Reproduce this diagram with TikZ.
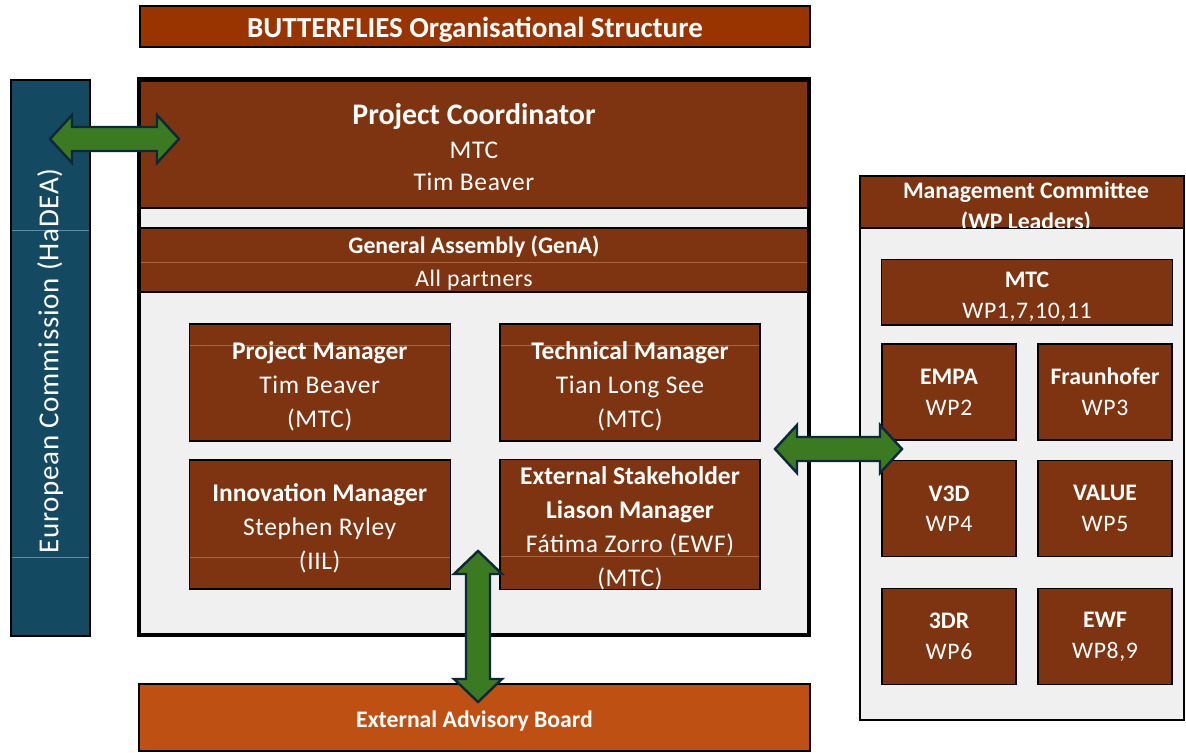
\documentclass[tikz,border=0pt]{standalone}
\usepackage{fontspec}
\setmainfont{Carlito}[UprightFeatures={LetterSpace=2.5}]
\usepackage{tikz}
\usetikzlibrary{calc}
\definecolor{brownbox}{HTML}{7E3410}
\definecolor{titlebar}{HTML}{993300}
\definecolor{advisory}{HTML}{BF5014}
\definecolor{commission}{HTML}{134A62}
\definecolor{panel}{HTML}{F0F0F0}
\definecolor{linkgreen}{HTML}{3C7A22}
\definecolor{linkedge}{HTML}{0D283A}
\definecolor{gridline}{HTML}{A8683F}
\definecolor{ecgrid}{HTML}{5D8CA3}
\newcommand{\px}{0.02cm}
% pushes the first line of a box down a little
\newcommand{\boxtop}{\rule{0pt}{1em}}
\tikzset{
  box/.style={draw=black, line width=0.7pt, fill=brownbox, text=white, align=center, inner sep=0pt,
    font=\fontsize{14.5}{19.3}\selectfont},
  wpbox/.style={box, minimum width=134*\px, minimum height=96*\px, font=\fontsize{13.5}{17.6}\selectfont},
  gridat/.style={path picture={\draw[gridline, line width=0.5pt]
    ([yshift=-#1]path picture bounding box.north west) -- ([yshift=-#1]path picture bounding box.north east);}},
  frame/.style={draw=black, line width=2pt, fill=panel},
  mcframe/.style={draw=black, line width=1.1pt, fill=panel},
  link/.style={draw=linkedge, line width=1.4pt, fill=linkgreen, line join=miter},
  lab/.style={text=white, inner sep=0pt, align=center}
}
% block arrows between two tips: (left,right) and (top,bottom)
\newcommand{\sidelinkarrow}[2]{%
  \draw[link] (#1) -- ($(#1)+(22,-24)$) -- ($(#1)+(22,-12)$) -- ($(#2)+(-22,-12)$) -- ($(#2)+(-22,-24)$)
    -- (#2) -- ($(#2)+(-22,24)$) -- ($(#2)+(-22,12)$) -- ($(#1)+(22,12)$) -- ($(#1)+(22,24)$) -- cycle;}
\newcommand{\uplinkarrow}[2]{%
  \draw[link] (#1) -- ($(#1)+(24,23)$) -- ($(#1)+(12,23)$) -- ($(#2)+(12,-23)$) -- ($(#2)+(24,-23)$)
    -- (#2) -- ($(#2)+(-24,-23)$) -- ($(#2)+(-12,-23)$) -- ($(#1)+(-12,23)$) -- ($(#1)+(-24,23)$) -- cycle;}

\begin{document}
\begin{tikzpicture}[x=\px, y=-\px]
  \useasboundingbox (0,0) rectangle (1186,753);

  \node[box, fill=titlebar, minimum width=670*\px, minimum height=41*\px,
    font=\bfseries\fontsize{16.5}{20}\selectfont] (title) at (475,26.5) {\rule{0pt}{0.95em}BUTTERFLIES Organisational Structure};

  % European Commission column
  \node[draw=black, line width=1pt, fill=commission, minimum width=79*\px, minimum height=556*\px,
    inner sep=0pt] (ec) at (50.5,358) {};
  \draw[ecgrid, line width=0.5pt] (12,230) -- (89,230) (12,557) -- (89,557);
  \node[lab, rotate=90, font=\fontsize{16.5}{20}\selectfont] (eclabel) at (50,361) {European Commission (HaDEA)};

  % consortium frame
  \draw[frame] (139,79) rectangle (809,635);
  \node[box, minimum width=667*\px, minimum height=127*\px] (pc) at (474,144.5)
    {{\bfseries\fontsize{17}{20}\selectfont\rule{0pt}{0.88em}Project Coordinator}\\[0pt] MTC\\[-1pt] Tim Beaver};
  \node[box, minimum width=667*\px, minimum height=64*\px, gridat=0.68cm,
    font=\fontsize{13.5}{18.3}\selectfont] (gena) at (474,260)
    {\boxtop\textbf{General Assembly (GenA)}\\ All partners};

  \node[box, minimum width=261*\px, minimum height=117*\px, gridat=0.42cm] (pm) at (319.7,382.5)
    {\boxtop\textbf{Project Manager}\\ Tim Beaver\\ (MTC)};
  \node[box, minimum width=260*\px, minimum height=117*\px, gridat=0.42cm] (tm) at (630,382.5)
    {\boxtop\textbf{Technical Manager}\\ Tian Long See\\ (MTC)};
  \node[box, minimum width=261*\px, minimum height=129*\px, gridat=1.94cm] (im) at (319.7,524.5)
    {\boxtop\textbf{Innovation Manager}\\ Stephen Ryley\\ (IIL)};
  \node[box, minimum width=260*\px, minimum height=129*\px, gridat=1.94cm] (eslm) at (630,524.5)
    {\boxtop\textbf{External Stakeholder}\\ \textbf{Liason Manager}\\ Fátima Zorro (EWF)\\ (MTC)};

  \node[box, fill=advisory, minimum width=671*\px, minimum height=67*\px,
    font=\bfseries\fontsize{13.5}{18}\selectfont] (eab) at (474.5,717.5) {\boxtop External Advisory Board};

  % Management Committee
  \draw[mcframe] (860,176) rectangle (1184,720);
  \node[box, line width=1.1pt, minimum width=324*\px, minimum height=52*\px] (mchead) at (1022,202) {};
  \begin{scope}
    \clip (861,177) rectangle (1183,227.5);
    \node[lab, font=\bfseries\fontsize{13.5}{18}\selectfont] (mclabel) at (1026,207.5)
      {Management Committee\\ (WP Leaders)};
  \end{scope}
  \node[wpbox, minimum width=290.6*\px, minimum height=65.7*\px] (mtc) at (1027,292.2)
    {\boxtop\textbf{MTC}\\ WP1,7,10,11};
  \node[wpbox] (empa)  at (949,392)    {\textbf{EMPA}\\ WP2};
  \node[wpbox] (fhg)   at (1105,392)   {\textbf{Fraunhofer}\\ WP3};
  \node[wpbox] (vtd)   at (949,508.7)  {\textbf{V3D}\\ WP4};
  \node[wpbox] (value) at (1105,508.7) {\textbf{VALUE}\\ WP5};
  \node[wpbox] (tdr)   at (949,636.7)  {\textbf{3DR}\\ WP6};
  \node[wpbox] (ewf)   at (1105,636.7) {\textbf{EWF}\\ WP8,9};

  % links
  \coordinate (ectip) at (50,139);
  \coordinate (pctip) at (179,139);
  \sidelinkarrow{ectip}{pctip}
  \coordinate (frametip) at (775,449);
  \coordinate (mctip) at (902,449);
  \sidelinkarrow{frametip}{mctip}
  \coordinate (esltip) at (478,551);
  \coordinate (eabtip) at (478,702);
  \uplinkarrow{esltip}{eabtip}
\end{tikzpicture}
\end{document}
